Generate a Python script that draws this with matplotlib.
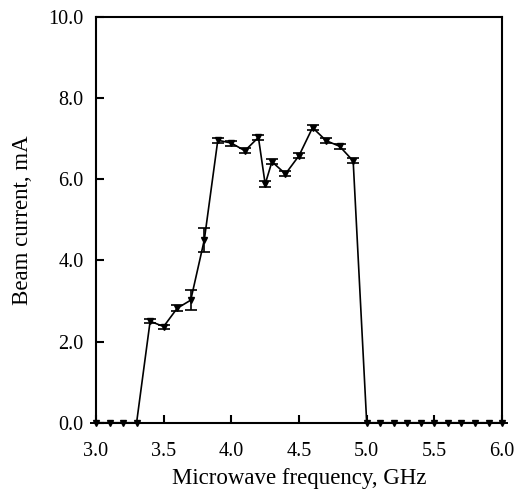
import numpy as np
import matplotlib.pyplot as plt

plt.rcParams['font.family'] = ['Liberation Serif', 'DejaVu Serif']

freq = [3.0, 3.1, 3.2, 3.3, 3.4, 3.5, 3.6, 3.7, 3.8, 3.9, 4.0, 4.1, 4.2, 4.25,
        4.3, 4.4, 4.5, 4.6, 4.7, 4.8, 4.9, 5.0, 5.1, 5.2, 5.3, 5.4, 5.5, 5.6,
        5.7, 5.8, 5.9, 6.0]
current = [0.0, 0.0, 0.0, 0.0, 2.50, 2.37, 2.82, 3.02, 4.50, 6.96, 6.89, 6.70,
           7.03, 5.88, 6.43, 6.13, 6.58, 7.27, 6.95, 6.81, 6.45, 0.0, 0.0, 0.0,
           0.0, 0.0, 0.0, 0.0, 0.0, 0.0, 0.0, 0.0]
err = [0.0, 0.0, 0.0, 0.0, 0.05, 0.05, 0.07, 0.24, 0.30, 0.06, 0.06, 0.06,
       0.07, 0.08, 0.06, 0.06, 0.07, 0.06, 0.07, 0.06, 0.06, 0.0, 0.0, 0.0,
       0.0, 0.0, 0.0, 0.0, 0.0, 0.0, 0.0, 0.0]

fig = plt.figure(figsize=(5.16, 4.95), dpi=100)
ax = fig.add_axes([0.186, 0.146, 0.787, 0.820])

ax.errorbar(freq, current, yerr=err, color='black', lw=1.2, marker='v',
            markersize=4.5, capsize=4, elinewidth=1.2, capthick=1.2,
            clip_on=False, zorder=3)

ax.set_xlim(3.0, 6.0)
ax.set_ylim(0.0, 10.0)
ax.set_xticks(np.arange(3.0, 6.01, 0.5))
ax.set_yticks(np.arange(0.0, 10.01, 2.0))
ax.xaxis.set_major_formatter(plt.FormatStrFormatter('%.1f'))
ax.yaxis.set_major_formatter(plt.FormatStrFormatter('%.1f'))
ax.tick_params(direction='in', length=6, width=1.5, labelsize=14.5,
               top=False, right=False)
ax.tick_params(axis='x', pad=14)
ax.tick_params(axis='y', pad=9)
for s in ax.spines.values():
    s.set_linewidth(1.5)

ax.set_xlabel('Microwave frequency, GHz', fontsize=16.5, labelpad=5)
ax.set_ylabel('Beam current, mA', fontsize=16.5, labelpad=11)

fig.savefig('out.png', dpi=100)
